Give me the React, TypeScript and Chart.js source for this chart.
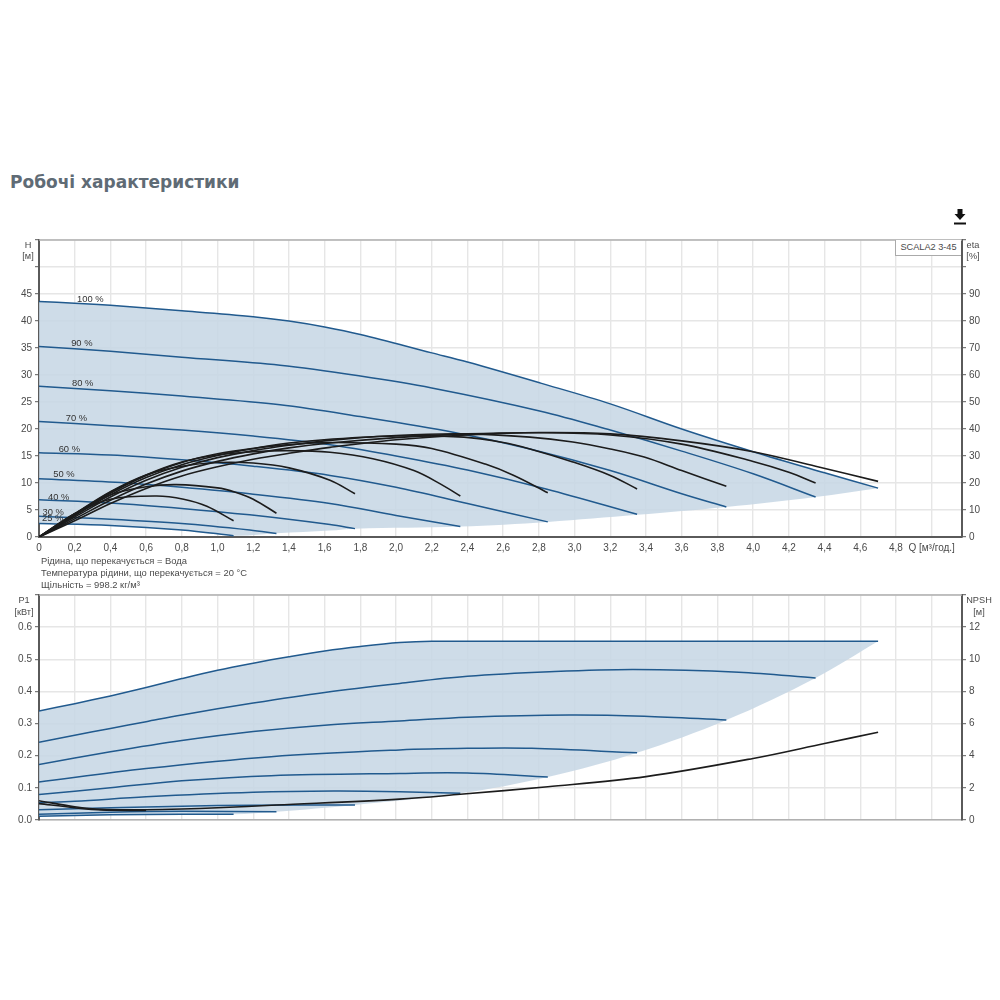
import React, { useEffect, useRef } from "react";
import { Chart, registerables } from "chart.js";

Chart.register(...registerables);

// Head curves [Q, H]
const h100 = [[0, 43.6], [0.2, 43.3], [0.4, 42.9], [0.8, 41.9], [1.2, 40.8], [1.4, 40.0], [1.6, 38.9], [1.8, 37.5], [2.2, 34.1], [2.4, 32.4], [2.81, 28.5], [3.2, 24.65], [3.6, 20], [4.0, 15.8], [4.4, 11.9], [4.7, 9.05]];
const h90 = [[0, 35.3], [0.4, 34.4], [0.8, 33.3], [1.35, 31.8], [1.8, 29.8], [2.2, 27.6], [2.81, 23.3], [3.2, 19.8], [3.6, 15.9], [4, 11.7], [4.35, 7.4]];
const h80 = [[0, 27.9], [0.4, 27.1], [0.8, 26.1], [1.35, 24.5], [1.8, 22.3], [2.32, 19.4], [2.75, 16.3], [3.2, 12.3], [3.6, 8], [3.85, 5.55]];
const h70 = [[0, 21.4], [0.4, 20.6], [0.8, 19.8], [1.2, 18.7], [1.63, 17.1], [2.0, 15], [2.4, 12.4], [2.84, 8.9], [3.35, 4.2]];
const h60 = [[0, 15.6], [0.4, 15.2], [0.8, 14.3], [1.2, 13.1], [1.63, 11.4], [2.0, 9.2], [2.4, 6.2], [2.85, 2.8]];
const h50 = [[0, 10.8], [0.49, 10], [0.8, 9.2], [1.18, 8], [1.63, 6.2], [2.0, 4.0], [2.36, 1.95]];
const h40 = [[0, 6.9], [0.4, 6.3], [0.8, 5.3], [1.18, 4.1], [1.63, 2.3], [1.77, 1.55]];
const h30 = [[0, 3.85], [0.4, 3.3], [0.8, 2.5], [1.18, 1.3], [1.33, 0.65]];
const h25 = [[0, 2.5], [0.4, 2.15], [0.8, 1.3], [1.09, 0.25]];
const hLowerEdge = [[0, 2.5], [0.4, 2.15], [0.8, 1.3], [1.09, 0.25], [1.33, 0.7], [1.63, 1.2], [1.77, 1.55], [2.36, 1.95], [2.85, 2.8], [3.35, 4.1], [3.85, 5.55], [4.35, 7.4], [4.7, 9.05]];

// Efficiency curves [Q, eta]
const eta100 = [[0, 0], [0.2, 6], [0.4, 12.4], [0.6, 18], [0.8, 22.6], [1, 26], [1.2, 28.8], [1.4, 31], [1.63, 33.2], [2, 36], [2.4, 37.8], [2.8, 38.7], [3.2, 38.2], [3.6, 35.6], [4, 31.6], [4.35, 26.2], [4.7, 20.6]];
const eta90 = [[0, 0], [0.2, 6.7], [0.4, 13.6], [0.6, 19.6], [0.8, 24.4], [1, 28], [1.2, 30.8], [1.4, 33], [1.63, 34.8], [2, 36.8], [2.4, 38.2], [2.8, 38.6], [3.2, 37.8], [3.6, 34.4], [4, 28], [4.2, 24], [4.35, 20]];
const eta80 = [[0, 0], [0.2, 7.4], [0.4, 14.8], [0.6, 21], [0.8, 25.8], [1, 29.4], [1.2, 32], [1.4, 34], [1.63, 35.8], [2, 37.6], [2.38, 38.2], [2.75, 37], [2.99, 35.2], [3.2, 32.6], [3.39, 29.6], [3.6, 24.6], [3.85, 18.8]];
const eta70 = [[0, 0], [0.2, 7.9], [0.4, 15.6], [0.6, 22], [0.8, 26.8], [1, 30.2], [1.2, 32.8], [1.4, 34.8], [1.63, 36.2], [2, 37.4], [2.38, 37], [2.6, 35], [2.75, 32.6], [2.99, 27.8], [3.2, 22.8], [3.35, 17.8]];
const eta60 = [[0, 0], [0.2, 8.2], [0.4, 16.2], [0.6, 22.8], [0.8, 27.6], [1, 30.8], [1.2, 32.8], [1.4, 34.2], [1.63, 35], [2, 34.4], [2.2, 32.8], [2.5, 27], [2.66, 22.8], [2.85, 16.4]];
const eta50 = [[0, 0], [0.2, 8.4], [0.4, 16.6], [0.6, 23], [0.8, 27.8], [1, 30.4], [1.2, 31.6], [1.4, 32], [1.63, 31.4], [1.87, 29], [2.1, 24.6], [2.25, 19.6], [2.36, 15.2]];
const eta40 = [[0, 0], [0.2, 8.6], [0.4, 16.8], [0.6, 23], [0.8, 26.2], [1, 27.6], [1.2, 27.4], [1.4, 25.6], [1.63, 21], [1.77, 16]];
const eta30 = [[0, 0], [0.2, 8.6], [0.4, 15.6], [0.6, 18.6], [0.77, 19.4], [1, 18.2], [1.1, 16.6], [1.2, 14], [1.33, 8.8]];
const eta25 = [[0, 0], [0.2, 8.6], [0.4, 14], [0.66, 15.2], [0.81, 14], [0.94, 11.4], [1.09, 6]];

// Power curves [Q, P1]
const p100 = [[0, 0.339], [0.2, 0.362], [0.4, 0.386], [0.6, 0.412], [0.8, 0.44], [1, 0.466], [1.2, 0.488], [1.4, 0.508], [1.6, 0.526], [1.8, 0.54], [2.02, 0.552], [2.2, 0.556], [3, 0.556], [4, 0.556], [4.7, 0.556]];
const p90 = [[0, 0.242], [0.2, 0.264], [0.4, 0.285], [0.6, 0.306], [0.8, 0.327], [1.2, 0.364], [1.6, 0.397], [2.02, 0.425], [2.4, 0.447], [2.86, 0.461], [3.33, 0.468], [3.92, 0.46], [4.35, 0.442]];
const p80 = [[0, 0.173], [0.4, 0.212], [0.8, 0.247], [1.2, 0.275], [1.6, 0.295], [2.02, 0.308], [2.4, 0.32], [2.97, 0.327], [3.39, 0.323], [3.85, 0.311]];
const p70 = [[0, 0.118], [0.6, 0.16], [1.3, 0.197], [2.02, 0.218], [2.4, 0.223], [2.76, 0.223], [3.35, 0.209]];
const p60 = [[0, 0.079], [0.4, 0.1], [0.8, 0.122], [1.3, 0.138], [2.02, 0.145], [2.4, 0.146], [2.85, 0.134]];
const p50 = [[0, 0.054], [0.2, 0.058], [0.6, 0.072], [1.2, 0.086], [1.65, 0.09], [2.02, 0.088], [2.36, 0.083]];
const p40 = [[0, 0.032], [0.4, 0.038], [0.8, 0.043], [1.2, 0.046], [1.77, 0.047]];
const p30 = [[0, 0.018], [0.4, 0.024], [0.8, 0.027], [1.33, 0.026]];
const p25 = [[0, 0.012], [0.4, 0.016], [0.8, 0.018], [1.09, 0.018]];
const pLowerEdge = [[0, 0.012], [0.4, 0.016], [0.8, 0.018], [1.09, 0.018], [1.33, 0.026], [1.77, 0.047], [2.36, 0.083], [2.85, 0.134], [3.35, 0.209], [3.85, 0.311], [4.35, 0.442], [4.7, 0.556]];

// NPSH curves [Q, m]
const npsh = [[0, 1.2], [0.2, 0.82], [0.35, 0.66], [0.6, 0.64], [0.8, 0.68], [1, 0.76], [1.33, 0.93], [2.02, 1.3], [2.36, 1.6], [2.85, 2.07], [3.4, 2.7], [4, 3.83], [4.4, 4.76], [4.7, 5.46]];
const npshLow = [[0, 1.02], [0.2, 0.76], [0.35, 0.62], [0.6, 0.6]];

const speedLabels = ["100 %", "90 %", "80 %", "70 %", "60 %", "50 %", "40 %", "30 %", "25 %"];
const speedLabelQ = [0.213, 0.18, 0.185, 0.15, 0.11, 0.08, 0.05, 0.02, 0.017];
const speedLabelH = [43.6, 35.4, 28, 21.5, 15.8, 11.1, 6.9, 4, 2.9];

const notes = ["Рідина, що перекачується = Вода", "Температура рідини, що перекачується = 20 °C", "Щільність = 998.2 кг/м³"];

const BLUE = "#215a8e";
const BLACK = "#1c1c1c";
const FILL = "rgba(198, 214, 228, 0.85)";
const GRID = "#e6e6e6";
const AXIS = "#5a5a5a";
const TEXT = "#4a4a4a";
const FONT = "Liberation Sans";

const toPoints = (rows: number[][]) => rows.map(([x, y]) => ({ x, y }));

const curve = (rows: number[][], color: string, yAxisID: string, extra = {}) => ({
  data: toPoints(rows),
  borderColor: color,
  borderWidth: color === BLACK ? 1.6 : 1.5,
  pointRadius: 0,
  tension: 0.35,
  yAxisID,
  ...extra,
});

const qTick = (v: number | string) => {
  const n = Number(v);
  if (n === 0) return "0";
  if (n > 4.9) return "Q [м³/год.]";
  return n.toFixed(1).replace(".", ",");
};

const qAxis = (showLabels: boolean) => ({
  type: "linear" as const,
  min: 0,
  max: 5.17,
  afterFit: (s: any) => {
    s.height = showLabels ? 20 : 2;
  },
  ticks: {
    stepSize: 0.2,
    includeBounds: false,
    autoSkip: false,
    maxRotation: 0,
    display: showLabels,
    callback: qTick,
    color: TEXT,
    padding: 5,
    font: { family: FONT, size: 10 },
  },
  grid: { color: GRID, lineWidth: 1.4, drawTicks: false },
  border: { color: showLabels ? AXIS : "#b0b0b0", width: showLabels ? 2 : 1.5 },
});

const valueAxis = (side: "left" | "right", max: number, step: number, lastLabel: number, fmt: (n: number) => string) => ({
  position: side,
  min: 0,
  max,
  afterFit: (s: any) => {
    s.width = side === "left" ? 39 : 38;
  },
  ticks: {
    stepSize: step,
    includeBounds: false,
    padding: 3,
    color: TEXT,
    font: { family: FONT, size: 10 },
    callback: (v: number | string) => (Number(v) > lastLabel ? "" : fmt(Number(v))),
  },
  grid: {
    color: GRID,
    lineWidth: 1.4,
    drawOnChartArea: side === "left",
    tickLength: 4,
    tickColor: AXIS,
    tickWidth: 1,
  },
  border: { color: AXIS, width: 2 },
});

// light frame on the top edge of the plot
const topEdge = {
  id: "topEdge",
  afterDraw(chart: any) {
    const { ctx, chartArea: a } = chart;
    ctx.save();
    ctx.strokeStyle = "#b0b0b0";
    ctx.lineWidth = 1.5;
    ctx.beginPath();
    ctx.moveTo(a.left, a.top);
    ctx.lineTo(a.right, a.top);
    ctx.stroke();
    ctx.restore();
  },
};

const speedText = {
  id: "speedText",
  afterDatasetsDraw(chart: any) {
    const { ctx, scales } = chart;
    ctx.save();
    ctx.font = `9.4px ${FONT}`;
    ctx.fillStyle = "#333333";
    ctx.textAlign = "left";
    ctx.textBaseline = "alphabetic";
    speedLabels.forEach((label, i) => {
      ctx.fillText(label, scales.x.getPixelForValue(speedLabelQ[i]), scales.y.getPixelForValue(speedLabelH[i]));
    });
    ctx.restore();
  },
};

const label = (x: number, y: number, text: string) => (
  <div
    style={{
      position: "absolute",
      left: x - 40,
      width: 80,
      top: y,
      textAlign: "center",
      font: `9.2px/12px "${FONT}"`,
      color: TEXT,
      whiteSpace: "nowrap",
    }}
  >
    {text}
  </div>
);

export default function App() {
  const headRef = useRef<HTMLCanvasElement | null>(null);
  const powerRef = useRef<HTMLCanvasElement | null>(null);

  useEffect(() => {
    if (!headRef.current || !powerRef.current) return;

    const head = new Chart(headRef.current, {
      type: "line",
      data: {
        datasets: [
          ...[eta25, eta30, eta40, eta50, eta60, eta70, eta80, eta90, eta100].map((r) => curve(r, BLACK, "eta")),
          ...[h90, h80, h70, h60, h50, h40, h30, h25].map((r) => curve(r, BLUE, "y")),
          curve(hLowerEdge, "transparent", "y", { borderWidth: 0 }),
          curve(h100, BLUE, "y", { fill: "-1", backgroundColor: FILL }),
        ],
      },
      options: {
        animation: false,
        responsive: false,
        devicePixelRatio: 1,
        layout: { padding: { top: 10 } },
        plugins: { legend: { display: false }, tooltip: { enabled: false } },
        scales: {
          x: qAxis(true),
          y: valueAxis("left", 55, 5, 45, String),
          eta: valueAxis("right", 110, 10, 90, String),
        },
      } as any,
      plugins: [topEdge, speedText],
    });

    const power = new Chart(powerRef.current, {
      type: "line",
      data: {
        datasets: [
          curve(npsh, BLACK, "npsh"),
          curve(npshLow, BLACK, "npsh"),
          ...[p90, p80, p70, p60, p50, p40, p30, p25].map((r) => curve(r, BLUE, "y")),
          curve(pLowerEdge, "transparent", "y", { borderWidth: 0 }),
          curve(p100, BLUE, "y", { fill: "-1", backgroundColor: FILL }),
        ],
      },
      options: {
        animation: false,
        responsive: false,
        devicePixelRatio: 1,
        layout: { padding: { top: 10 } },
        plugins: { legend: { display: false }, tooltip: { enabled: false } },
        scales: {
          x: qAxis(false),
          y: valueAxis("left", 0.7, 0.1, 0.6, (n) => n.toFixed(1)),
          npsh: valueAxis("right", 14, 2, 12, String),
        },
      } as any,
      plugins: [topEdge],
    });

    return () => {
      head.destroy();
      power.destroy();
    };
  }, []);

  return (
    <div style={{ position: "absolute", left: 0, top: 0, width: 1000, height: 1000, background: "#fff", overflow: "hidden", filter: "blur(0.35px)" }}>
      <div style={{ position: "absolute", left: 10, top: 172, font: 'bold 17px "DejaVu Sans"', color: "#5f6b75", whiteSpace: "nowrap" }}>
        Робочі характеристики
      </div>

      <svg style={{ position: "absolute", left: 950, top: 206 }} width={20} height={20}>
        <path d="M7.5 3h5v5h3l-5.5 6-5.5-6h3z" fill="#111" />
        <rect x={4} y={16.5} width={12} height={2} fill="#111" />
      </svg>

      <canvas ref={headRef} width={1000} height={327} style={{ position: "absolute", left: 0, top: 230 }} />
      <canvas ref={powerRef} width={1000} height={244} style={{ position: "absolute", left: 0, top: 585 }} />

      <div style={{ position: "absolute", left: 895, top: 240, width: 66, height: 16, boxSizing: "border-box", border: "1px solid #aaa", borderTop: "none", borderRight: "none", background: "#fff", font: `9.2px/15px "${FONT}"`, color: TEXT, textAlign: "center" }}>
        SCALA2 3-45
      </div>

      {label(28, 239, "H")}
      {label(28, 250, "[м]")}
      {label(973, 239, "eta")}
      {label(973, 250, "[%]")}
      {label(24, 594, "P1")}
      {label(24, 606, "[кВт]")}
      {label(979, 594, "NPSH")}
      {label(979, 606, "[м]")}

      {notes.map((n, i) => (
        <div key={n} style={{ position: "absolute", left: 41, top: 555 + i * 12, font: `9.4px/12px "${FONT}"`, color: TEXT, whiteSpace: "nowrap" }}>
          {n}
        </div>
      ))}
    </div>
  );
}
